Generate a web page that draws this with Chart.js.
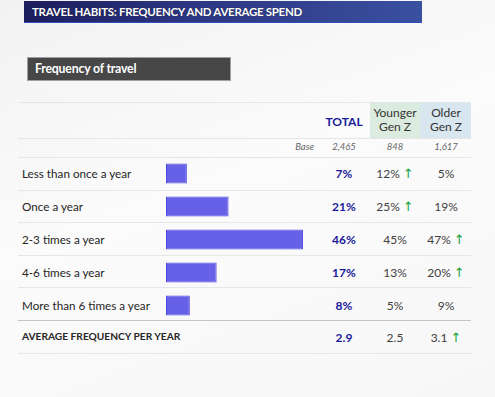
<!DOCTYPE html>
<html>
<head>
<meta charset="utf-8">
<script src="https://cdn.jsdelivr.net/npm/chart.js@4/dist/chart.umd.min.js"></script>
<style>
    html, body { margin: 0; padding: 0; }
    body {
        width: 495px; height: 397px; position: relative; overflow: hidden;
        background: linear-gradient(160deg, #f2f2f2 0%, #fbfbfb 45%, #f7f7f7 100%);
        font-family: 'Lato', 'Open Sans', sans-serif; color: #262626;
    }
    .abs { position: absolute; }
    #title {
        left: 24px; top: 1px; width: 398px; height: 22px;
        background: linear-gradient(90deg, #1c1d5c 0%, #2c3580 40%, #3a50a0 100%);
        border-bottom: 1px solid #2d4fb8;
        color: #fff; font-weight: bold; font-size: 11.5px; line-height: 22px;
        padding-left: 8px; box-sizing: border-box; letter-spacing: -0.3px;
        text-shadow: 0 0 1px rgba(0,0,0,0.6);
    }
    #subtitle {
        left: 27px; top: 57px; width: 204px; height: 24px;
        background: #474747; border: 1px solid #a0a0a0; box-sizing: border-box;
        color: #fff; font-weight: bold; font-size: 12.3px; line-height: 22px;
        padding-left: 7px; letter-spacing: -0.2px;
    }
    .hline { left: 18px; width: 453px; height: 1px; background: #e6e6e6; }
    .hline.dark { background: #c4c4c4; }
    .cell { text-align: center; font-size: 12px; }
    .lbl { left: 22px; font-size: 11.7px; }
    .tot { color: #1a1a9a; font-weight: bold; }
    .val { color: #404040; }
    .up { color: #19a33a; font-family: 'DejaVu Sans', sans-serif; font-size: 13px; line-height: 12px; }
    .base { font-style: italic; font-size: 9.5px; color: #666; }
    #bars { left: 166px; top: 157px; width: 149px; height: 165px; }
</style>
</head>
<body>
<div id="title" class="abs">TRAVEL HABITS: FREQUENCY AND AVERAGE SPEND</div>
<div id="subtitle" class="abs">Frequency of travel</div>
<div id="table"></div>
<div id="bars" class="abs"><canvas id="chart-freq"></canvas></div>
<script>
    const categories = [
        'Less than once a year',
        'Once a year',
        '2-3 times a year',
        '4-6 times a year',
        'More than 6 times a year',
    ];
    const totalPct = [7, 21, 46, 17, 8];
    const youngerPct = [12, 25, 45, 13, 5];
    const olderPct = [5, 19, 47, 20, 9];
    const youngerUp = [true, true, false, false, false];
    const olderUp = [false, false, true, true, false];

    const groups = ['TOTAL', 'Younger Gen Z', 'Older Gen Z'];
    const bases = ['2,465', '848', '1,617'];

    const avgLabel = 'AVERAGE FREQUENCY PER YEAR';
    const avgValues = [2.9, 2.5, 3.1];
    const avgUp = [false, false, true];

    (function buildTable() {
        const root = document.getElementById('table');
        function add(cls, css, html) {
            const d = document.createElement('div');
            d.className = 'abs ' + cls;
            d.style.cssText = css;
            d.innerHTML = html;
            root.appendChild(d);
            return d;
        }

        // header backgrounds
        add('', 'left:370px;top:102px;width:50px;height:36px;background:#dcebdf;', '');
        add('', 'left:420px;top:102px;width:51px;height:36px;background:#d8e6f0;', '');

        // rules
        const lines = [102, 138, 157, 190, 222, 255, 287, 320, 353];
        lines.forEach(function (y) {
            add('hline' + (y === 320 ? ' dark' : ''), 'top:' + y + 'px;', '');
        });

        // header text
        const colX = [344, 395, 446];
        add('cell tot', 'left:' + (colX[0] - 30) + 'px;width:60px;top:114px;', groups[0]);
        add('cell', 'left:' + (colX[1] - 30) + 'px;width:60px;top:106px;line-height:14px;color:#333;',
            'Younger<br>Gen Z');
        add('cell', 'left:' + (colX[2] - 30) + 'px;width:60px;top:106px;line-height:14px;color:#333;',
            'Older<br>Gen Z');

        // base row
        add('base', 'left:260px;width:54px;text-align:right;top:141px;', 'Base');
        bases.forEach(function (b, i) {
            add('cell base', 'left:' + (colX[i] - 30) + 'px;width:60px;top:141px;', b);
        });

        function valHtml(text, up) {
            return text + (up ? ' <span class="up">↑</span>' : '');
        }

        const rowY = [174, 207, 240, 273, 306];
        categories.forEach(function (c, i) {
            const top = rowY[i] - 8;
            add('lbl', 'top:' + top + 'px;', c);
            add('cell tot', 'left:' + (colX[0] - 30) + 'px;width:60px;top:' + top + 'px;', totalPct[i] + '%');
            add('cell val', 'left:' + (colX[1] - 30) + 'px;width:60px;top:' + top + 'px;',
                valHtml(youngerPct[i] + '%', youngerUp[i]));
            add('cell val', 'left:' + (colX[2] - 30) + 'px;width:60px;top:' + top + 'px;',
                valHtml(olderPct[i] + '%', olderUp[i]));
        });

        const avgTop = 338 - 8;
        add('lbl', 'top:' + avgTop + 'px;font-weight:bold;font-size:10.2px;color:#262626;', avgLabel);
        avgValues.forEach(function (v, i) {
            add('cell ' + (i === 0 ? 'tot' : 'val'),
                'left:' + (colX[i] - 30) + 'px;width:60px;top:' + avgTop + 'px;',
                valHtml(v.toFixed(1), avgUp[i]));
        });
    })();

    new Chart(document.getElementById('chart-freq'), {
        type: 'bar',
        data: {
            labels: categories,
            datasets: [
                {
                    data: totalPct,
                    backgroundColor: '#6761e8',
                    borderColor: '#4e47e0',
                    borderWidth: 1,
                    borderSkipped: false,
                    barPercentage: 0.6,
                    categoryPercentage: 1,
                },
            ],
        },
        options: {
            indexAxis: 'y',
            responsive: true,
            maintainAspectRatio: false,
            animation: false,
            layout: { padding: 0 },
            plugins: {
                legend: { display: false },
                tooltip: { enabled: false },
            },
            scales: {
                x: { display: false, min: 0, max: 50 },
                y: { display: false },
            },
        },
    });
</script>
</body>
</html>
